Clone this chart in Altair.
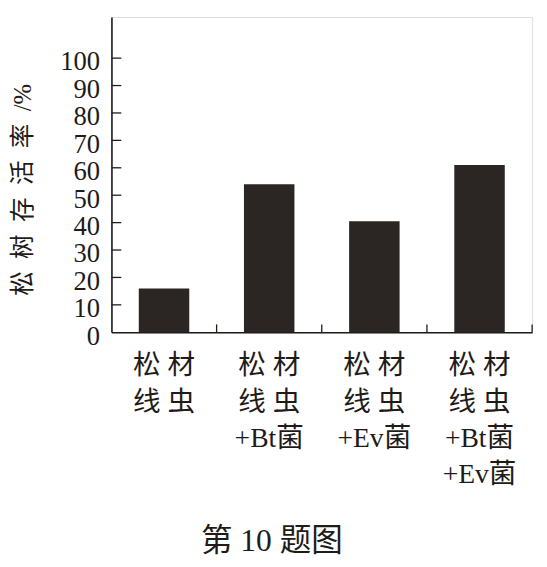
import altair as alt
import pandas as pd

categories = ["松 材|线 虫", "松 材|线 虫|+Bt菌", "松 材|线 虫|+Ev菌", "松 材|线 虫|+Bt菌|+Ev菌"]
survival = [16, 54, 40.5, 61]
y_ticks = [0, 10, 20, 30, 40, 50, 60, 70, 80, 90, 100]
x_bounds = [1, 2, 3, 4]

FONT = "Liberation Serif, Noto Sans CJK SC"
INK = "#1e1b19"

bars_df = pd.DataFrame({"cat": categories, "value": survival})
yt_df = pd.DataFrame({"value": y_ticks[1:]})
xt_df = pd.DataFrame({"b": x_bounds})

W, H = 427, 320

y_axis = alt.Axis(values=y_ticks, ticks=False, grid=False,
                  title="松\u2002树\u2002存\u2002活\u2002率\u2002/%",
                  titleFont=FONT, titleFontSize=25, titleFontWeight="normal",
                  titleColor=INK, titleAngle=-90, titleX=-90, titleY=175,
                  titleAlign="center", titleBaseline="middle",
                  labelFont=FONT, labelFontSize=27, labelColor=INK,
                  labelPadding=12, labelOffset=4, labelOverlap=False,
                  labelFlush=False,
                  domainColor=INK, domainWidth=1.6)
y_scale = alt.Scale(domain=[0, 115], nice=False)

bars = alt.Chart(bars_df).mark_bar(color="#2b2624").encode(
    x=alt.X("cat:N", sort=categories,
            scale=alt.Scale(paddingInner=0.52, paddingOuter=0.26),
            axis=alt.Axis(title=None, labelAngle=0, ticks=False,
                          labelExpr="split(datum.label, '|')",
                          labelFont=FONT, labelFontSize=28, labelColor=INK,
                          labelLineHeight=37, labelPadding=20,
                          domainColor=INK, domainWidth=1.6)),
    y=alt.Y("value:Q", scale=y_scale, axis=y_axis),
)

yticks = alt.Chart(yt_df).mark_rule(color=INK, strokeWidth=1.3).encode(
    y=alt.Y("value:Q", scale=y_scale, axis=y_axis),
    x=alt.value(0),
    x2=alt.value(10),
)

xticks = alt.Chart(xt_df).mark_rule(color=INK, strokeWidth=1.3).encode(
    x=alt.X("b:Q", scale=alt.Scale(domain=[0, 4], nice=False), axis=None),
    y=alt.value(H),
    y2=alt.value(H - 8),
)

chart = alt.layer(bars, yticks, xticks).resolve_scale(x="independent").properties(
    width=W, height=H,
    autosize=alt.AutoSizeParams(type="none"),
    padding={"left": 105, "top": 5, "right": 7, "bottom": 226},
    title=alt.TitleParams("第 10 题图", orient="bottom", anchor="middle", frame="bounds",
                          font=FONT, fontSize=32, fontWeight="normal", color=INK,
                          offset=38),
).configure_view(stroke=None).configure(background="white")

chart.save("out.html", embed_options={"renderer": "svg", "actions": False})
